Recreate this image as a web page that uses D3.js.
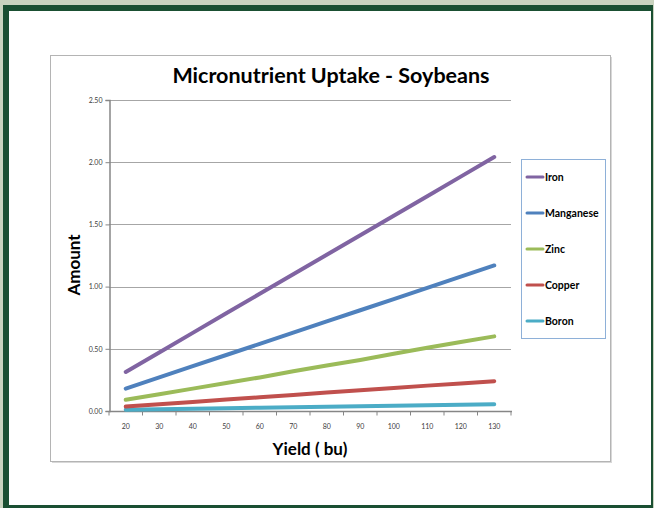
<!DOCTYPE html>
<html>
<head>
<meta charset="utf-8">
<script src="https://cdn.jsdelivr.net/npm/d3@7"></script>
<style>
  html, body { margin: 0; padding: 0; background: #c9d3bf; }
  svg { display: block; }
  text { font-family: Lato, "Open Sans", sans-serif; }
</style>
</head>
<body>
<div id="chart"></div>
<script>
// Micronutrient uptake vs. yield, soybeans
const yields = [20, 30, 40, 50, 60, 70, 80, 90, 100, 110, 120, 130];
const iron      = [0.314, 0.471, 0.628, 0.785, 0.942, 1.099, 1.256, 1.413, 1.570, 1.727, 1.884, 2.041];
const manganese = [0.18, 0.27, 0.36, 0.45, 0.54, 0.63, 0.72, 0.81, 0.90, 0.99, 1.08, 1.17];
const zinc      = [0.09, 0.135, 0.18, 0.225, 0.27, 0.32, 0.365, 0.41, 0.46, 0.508, 0.555, 0.60];
const copper    = [0.036, 0.055, 0.073, 0.092, 0.11, 0.129, 0.148, 0.166, 0.185, 0.204, 0.222, 0.24];
const boron     = [0.01, 0.014, 0.018, 0.022, 0.026, 0.030, 0.034, 0.038, 0.042, 0.046, 0.050, 0.054];
const seriesNames = ['Iron', 'Manganese', 'Zinc', 'Copper', 'Boron'];
const yTicks = [0, 0.5, 1.0, 1.5, 2.0, 2.5];

const colors = ['#8064a2', '#4f81bd', '#9bbb59', '#c0504d', '#4bacc6'];
const seriesValues = [iron, manganese, zinc, copper, boron];

const W = 654, H = 508;
const svg = d3.select('#chart').append('svg').attr('width', W).attr('height', H);

// slide frame
svg.append('rect').attr('x', 0).attr('y', 0).attr('width', W).attr('height', H).attr('fill', '#c9d3bf');
svg.append('rect').attr('x', 3).attr('y', 5).attr('width', 650).attr('height', 503).attr('fill', '#1a4f32');
svg.append('rect').attr('x', 9).attr('y', 11).attr('width', 642).attr('height', 494).attr('fill', '#fff');

// chart box with soft shadow
svg.append('rect').attr('x', 52).attr('y', 57).attr('width', 560).attr('height', 406).attr('fill', '#d8d8d8');
svg.append('rect').attr('x', 50.5).attr('y', 55.5).attr('width', 560).attr('height', 406)
  .attr('fill', '#fff').attr('stroke', '#b4b4b4').attr('stroke-width', 1);

const plot = { left: 109, right: 511, top: 100, bottom: 411 };

const x = d3.scalePoint().domain(yields).range([plot.left, plot.right]).padding(0.5);
const y = d3.scaleLinear().domain([0, 2.5]).range([plot.bottom, plot.top]);

// gridlines
svg.append('g').selectAll('line').data(yTicks.filter(t => t > 0)).join('line')
  .attr('x1', plot.left).attr('x2', plot.right)
  .attr('y1', d => Math.round(y(d)) + 0.5).attr('y2', d => Math.round(y(d)) + 0.5)
  .attr('stroke', '#a6a6a6').attr('stroke-width', 1);

// y axis
const yAxis = svg.append('g').attr('transform', `translate(${plot.left + 0.5},0)`)
  .call(d3.axisLeft(y).tickValues(yTicks).tickFormat(d3.format('.2f')).tickSize(4).tickPadding(3));
yAxis.select('.domain').attr('stroke', '#868686').attr('stroke-width', 1.5);
yAxis.selectAll('.tick line').attr('stroke', '#868686');
yAxis.selectAll('.tick text').attr('fill', '#404040').style('font-size', '7px').style('font-family', 'Lato, sans-serif');

// x axis: category axis, tick marks between categories
const step = x.step();
const bounds = yields.map(d => x(d) - step / 2).concat([x(yields[yields.length - 1]) + step / 2]);
const xAxis = svg.append('g').attr('transform', `translate(0,${plot.bottom + 0.5})`);
xAxis.append('line').attr('x1', plot.left).attr('x2', plot.right + 1)
  .attr('stroke', '#868686').attr('stroke-width', 1.5);
xAxis.selectAll('.tk').data(bounds).join('line').attr('class', 'tk')
  .attr('x1', d => d).attr('x2', d => d).attr('y1', 0).attr('y2', 4)
  .attr('stroke', '#868686');
xAxis.selectAll('text').data(yields).join('text')
  .attr('x', d => x(d)).attr('y', 17).attr('text-anchor', 'middle')
  .attr('fill', '#404040').style('font-size', '7px').text(d => d);

// series lines
const line = d3.line().x((d, i) => x(yields[i])).y(d => y(d));
svg.append('g').selectAll('path').data(seriesValues.slice().reverse()).join('path')
  .attr('d', line)
  .attr('fill', 'none')
  .attr('stroke', (d, i) => colors[colors.length - 1 - i])
  .attr('stroke-width', 4)
  .attr('stroke-linecap', 'round')
  .attr('stroke-linejoin', 'round');

// title and axis labels
svg.append('text').attr('x', 331).attr('y', 83).attr('text-anchor', 'middle')
  .style('font-size', '21.5px').style('font-weight', 700).attr('fill', '#000')
  .text('Micronutrient Uptake - Soybeans');
svg.append('text').attr('transform', 'translate(80,265) rotate(-90)').attr('text-anchor', 'middle')
  .style('font-size', '17px').style('font-weight', 700).attr('fill', '#000').text('Amount');
svg.append('text').attr('x', 310).attr('y', 455).attr('text-anchor', 'middle')
  .style('font-size', '17px').style('font-weight', 700).attr('fill', '#000').text('Yield ( bu)');

// legend
const legend = svg.append('g');
legend.append('rect').attr('x', 521.5).attr('y', 159.5).attr('width', 84).attr('height', 179)
  .attr('fill', '#fff').attr('stroke', '#8eb0d8').attr('stroke-width', 1);
const items = legend.selectAll('g.item').data(seriesNames).join('g').attr('class', 'item')
  .attr('transform', (d, i) => `translate(527,${177 + i * 36})`);
items.append('line').attr('x1', 0).attr('x2', 16).attr('y1', 0).attr('y2', 0)
  .attr('stroke', (d, i) => colors[i]).attr('stroke-width', 3).attr('stroke-linecap', 'round');
items.append('text').attr('x', 18).attr('y', 3.7)
  .style('font-size', '10.5px').style('font-weight', 700).attr('fill', '#000').text(d => d);
</script>
</body>
</html>
